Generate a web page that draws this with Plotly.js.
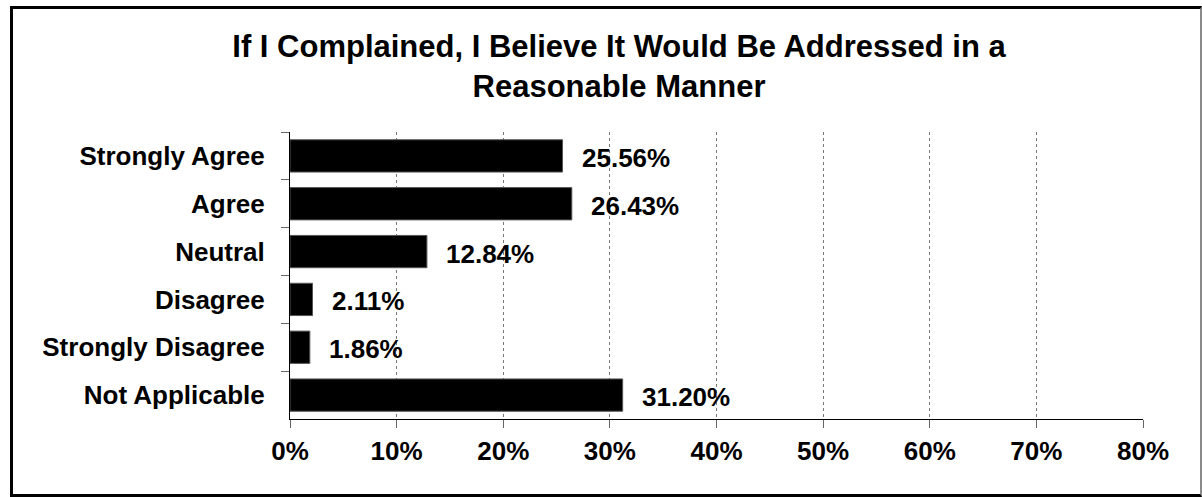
<!DOCTYPE html>
<html>
<head>
<meta charset="utf-8">
<script src="https://cdn.plot.ly/plotly-3.0.1.min.js"></script>
<style>
  html, body { margin: 0; padding: 0; background: #fff; }
  #chart { position: absolute; left: 0; top: 0; width: 1202px; height: 497px; }
  #frame {
    position: absolute; left: 10px; top: 6px;
    width: 1187px; height: 485px;
    border-left: 3px solid #000; border-top: 3px solid #000;
    border-bottom: 3px solid #000; border-right: 2px solid #8a8a8a;
    pointer-events: none;
  }
</style>
</head>
<body>
<div id="chart"></div>
<div id="frame"></div>
<script>
// Survey responses (percent of respondents)
const categories = ["Strongly Agree", "Agree", "Neutral", "Disagree", "Strongly Disagree", "Not Applicable"];
const percents = [25.56, 26.43, 12.84, 2.11, 1.86, 31.20];
const xTickValues = [0, 10, 20, 30, 40, 50, 60, 70, 80];
const chartTitle = "If I Complained, I Believe It Would Be Addressed in a<br>Reasonable Manner";

const FONT = "'Liberation Sans', Arial, sans-serif";

const trace = {
  type: "bar",
  orientation: "h",
  y: categories,
  x: percents,
  marker: { color: "#000000", line: { color: "#555555", width: 1 } },
  hoverinfo: "skip"
};

const valueLabels = categories.map((c, i) => ({
  x: percents[i],
  y: c,
  xref: "x",
  yref: "y",
  text: percents[i].toFixed(2) + "%",
  showarrow: false,
  xanchor: "left",
  yanchor: "middle",
  xshift: 17,
  yshift: -2,
  font: { family: FONT, size: 26, color: "#000", weight: 700 }
}));

const layout = {
  width: 1202,
  height: 497,
  paper_bgcolor: "#ffffff",
  plot_bgcolor: "#ffffff",
  showlegend: false,
  bargap: 0.325,
  margin: { l: 290, r: 59, t: 132, b: 78, pad: 0 },
  title: {
    text: chartTitle,
    font: { family: FONT, size: 31, color: "#000", weight: 700 },
    x: 0.515,
    xref: "container",
    xanchor: "center",
    y: 0.885,
    yref: "container",
    yanchor: "top"
  },
  xaxis: {
    range: [0, 80],
    tickvals: xTickValues,
    ticktext: xTickValues.map(v => v + "%"),
    showgrid: true,
    gridcolor: "#7a7a7a",
    griddash: "dot",
    gridwidth: 1,
    zeroline: false,
    showline: true,
    linecolor: "#000",
    linewidth: 1,
    ticks: "outside",
    ticklen: 8,
    tickcolor: "#666",
    tickwidth: 1,
    ticklabelstandoff: 1,
    tickfont: { family: FONT, size: 26, color: "#000", weight: 700 },
    fixedrange: true
  },
  yaxis: {
    type: "category",
    autorange: "reversed",
    tickson: "boundaries",
    ticks: "outside",
    ticklen: 8,
    tickcolor: "#666",
    tickwidth: 1,
    showgrid: false,
    zeroline: false,
    showline: true,
    linecolor: "#000",
    linewidth: 1,
    ticklabelstandoff: 19,
    tickfont: { family: FONT, size: 26, color: "#000", weight: 700 },
    fixedrange: true
  },
  annotations: valueLabels
};

Plotly.newPlot("chart", [trace], layout, { displayModeBar: false, staticPlot: true });
</script>
</body>
</html>
